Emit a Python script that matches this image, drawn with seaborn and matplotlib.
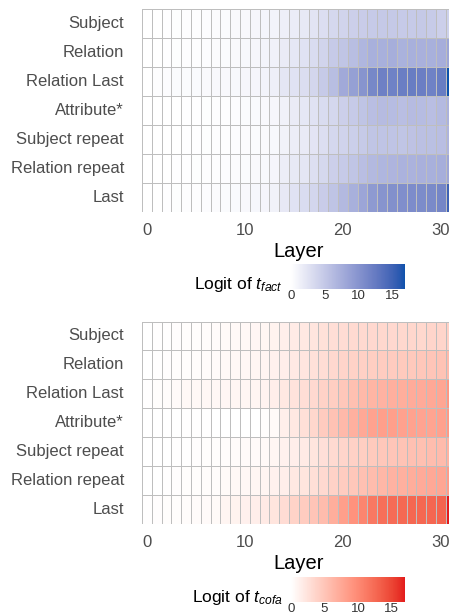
import numpy as np
import pandas as pd
import matplotlib
matplotlib.use("Agg")
import matplotlib.pyplot as plt
from matplotlib.colors import ListedColormap, to_rgb
import seaborn as sns

# ---------------------------------------------------------------- data
token_types = ["Subject", "Relation", "Relation Last", "Attribute*",
               "Subject repeat", "Relation repeat", "Last"]
layers = list(range(32))
xtick_layers = [0, 10, 20, 30]
cbar_ticks = [0, 5, 10, 15]

# logit of the factual target token, per token position and layer
fact_subject = [0.00, 0.05, 0.10, 0.15, 0.20, 0.25, 0.30, 0.35, 0.45, 0.55, 0.65, 0.80, 0.95, 1.10, 1.40, 1.70,
                2.00, 2.50, 3.00, 3.50, 3.90, 4.30, 4.60, 4.80, 4.90, 4.90, 4.80, 4.80, 4.90, 4.70, 4.30, 4.20]
fact_relation = [0.00, 0.05, 0.10, 0.15, 0.20, 0.25, 0.30, 0.35, 0.45, 0.55, 0.70, 0.85, 1.00, 1.30, 1.80, 2.20,
                 2.60, 3.20, 3.90, 4.80, 5.30, 6.00, 6.70, 7.30, 7.30, 7.40, 7.10, 7.30, 7.20, 7.30, 7.50, 8.30]
fact_relation_last = [0.00, 0.20, 0.30, 0.40, 0.45, 0.50, 0.55, 0.60, 0.65, 0.70, 0.80, 0.90, 1.10, 1.50, 2.30, 2.60,
                      3.10, 3.70, 4.80, 6.00, 7.90, 8.80, 10.00, 11.20, 11.90, 11.80, 12.20, 12.30, 12.10, 11.80, 12.30, 16.90]
fact_attribute = [0.00, 0.00, 0.05, 0.05, 0.10, 0.10, 0.15, 0.20, 0.25, 0.30, 0.40, 0.50, 0.60, 0.80, 1.30, 1.80,
                  2.20, 2.60, 3.20, 3.60, 4.30, 4.80, 5.40, 5.90, 6.20, 6.10, 5.90, 6.20, 6.10, 5.90, 6.30, 7.00]
fact_subject_repeat = [0.00, 0.00, 0.05, 0.05, 0.10, 0.10, 0.15, 0.20, 0.25, 0.30, 0.35, 0.45, 0.55, 0.70, 1.20, 1.60,
                       1.90, 2.40, 3.00, 3.60, 4.00, 4.40, 4.80, 5.30, 5.40, 5.40, 5.30, 5.50, 5.70, 5.80, 5.90, 6.80]
fact_relation_repeat = [0.00, 0.00, 0.05, 0.10, 0.10, 0.15, 0.20, 0.25, 0.30, 0.35, 0.45, 0.55, 0.70, 0.90, 1.60, 2.00,
                        2.30, 2.90, 3.50, 4.30, 4.80, 5.30, 5.90, 6.40, 6.70, 6.80, 7.00, 7.00, 7.20, 7.30, 7.40, 8.20]
fact_last = [0.00, 0.05, 0.10, 0.15, 0.20, 0.25, 0.30, 0.35, 0.40, 0.50, 0.60, 0.75, 0.90, 1.20, 2.10, 2.60,
             3.20, 3.70, 4.60, 5.40, 6.40, 7.30, 8.30, 9.40, 10.00, 10.40, 10.50, 10.70, 10.80, 11.00, 11.40, 15.00]

# logit of the counterfactual target token, per token position and layer
cofa_subject = [0.05, 0.10, 0.10, 0.15, 0.20, 0.25, 0.30, 0.35, 0.50, 0.55, 0.65, 0.75, 0.85, 1.10, 1.45, 1.75,
                2.00, 2.30, 2.60, 2.90, 3.00, 3.20, 3.30, 3.35, 3.45, 3.35, 3.45, 3.50, 3.45, 3.60, 3.65, 4.10]
cofa_relation = [0.05, 0.10, 0.15, 0.20, 0.25, 0.30, 0.35, 0.40, 0.55, 0.60, 0.70, 0.80, 0.90, 1.20, 1.50, 1.90,
                 2.20, 2.60, 2.95, 3.35, 3.70, 3.90, 4.10, 4.30, 4.40, 4.50, 4.60, 4.70, 4.90, 5.00, 5.20, 6.00]
cofa_relation_last = [0.10, 0.20, 0.30, 0.40, 0.60, 0.65, 0.70, 0.70, 0.75, 0.80, 0.85, 0.90, 1.00, 1.50, 2.00, 2.40,
                      2.90, 3.30, 3.90, 4.30, 4.90, 5.50, 6.10, 6.40, 6.60, 6.90, 7.00, 7.20, 7.30, 7.50, 7.70, 9.00]
cofa_attribute = [0.00, 0.00, 0.05, 0.05, 0.10, 0.10, 0.10, 0.05, 0.00, 0.00, 0.00, 0.00, 0.20, 0.50, 1.40, 2.00,
                  2.70, 3.50, 4.50, 5.30, 6.00, 6.80, 7.50, 8.00, 8.30, 8.30, 8.10, 8.00, 7.90, 7.80, 8.10, 8.70]
cofa_subject_repeat = [0.00, 0.05, 0.05, 0.10, 0.10, 0.15, 0.20, 0.25, 0.30, 0.35, 0.40, 0.45, 0.55, 0.80, 1.20, 1.50,
                       1.85, 2.30, 2.75, 3.20, 3.60, 4.00, 4.30, 4.60, 4.80, 5.00, 5.20, 5.40, 5.50, 5.70, 5.90, 6.70]
cofa_relation_repeat = [0.05, 0.05, 0.10, 0.15, 0.20, 0.25, 0.30, 0.30, 0.50, 0.60, 0.70, 0.80, 0.90, 1.20, 1.50, 2.00,
                        2.30, 2.80, 3.30, 3.90, 4.40, 4.90, 5.40, 5.80, 6.20, 6.60, 6.80, 7.10, 7.30, 7.50, 7.70, 8.50]
cofa_last = [0.10, 0.15, 0.20, 0.25, 0.30, 0.35, 0.40, 0.50, 0.90, 1.10, 1.30, 1.50, 1.80, 2.30, 3.00, 3.80,
             4.40, 5.10, 5.80, 7.00, 8.30, 9.30, 10.40, 11.40, 12.10, 12.40, 12.60, 12.70, 12.70, 12.80, 13.00, 17.00]

fact_df = pd.DataFrame([fact_subject, fact_relation, fact_relation_last, fact_attribute,
                        fact_subject_repeat, fact_relation_repeat, fact_last],
                       index=token_types, columns=layers)
cofa_df = pd.DataFrame([cofa_subject, cofa_relation, cofa_relation_last, cofa_attribute,
                        cofa_subject_repeat, cofa_relation_repeat, cofa_last],
                       index=token_types, columns=layers)


# ---------------------------------------------------------------- colour
WHITE_POINT = np.array([0.95047, 1.0, 1.08883])
M_RGB2XYZ = np.array([[0.4124, 0.3576, 0.1805],
                      [0.2126, 0.7152, 0.0722],
                      [0.0193, 0.1192, 0.9505]])
M_XYZ2RGB = np.linalg.inv(M_RGB2XYZ)


def rgb_to_lab(rgb):
    c = np.asarray(rgb, dtype=float)
    lin = np.where(c <= 0.04045, c / 12.92, ((c + 0.055) / 1.055) ** 2.4)
    xyz = M_RGB2XYZ @ lin / WHITE_POINT
    d = 6 / 29
    f = np.where(xyz > d ** 3, np.cbrt(xyz), xyz / (3 * d * d) + 4 / 29)
    return np.array([116 * f[1] - 16, 500 * (f[0] - f[1]), 200 * (f[1] - f[2])])


def lab_to_rgb(lab):
    L, a, b = lab
    fy = (L + 16) / 116
    f = np.array([fy + a / 500, fy, fy - b / 200])
    d = 6 / 29
    xyz = np.where(f > d, f ** 3, 3 * d * d * (f - 4 / 29)) * WHITE_POINT
    lin = np.clip(M_XYZ2RGB @ xyz, 0, 1)
    c = np.where(lin <= 0.0031308, 12.92 * lin, 1.055 * lin ** (1 / 2.4) - 0.055)
    return np.clip(c, 0, 1)


def lab_gradient(high, n=256):
    """White-to-colour gradient interpolated in CIE Lab."""
    lo, hi = rgb_to_lab(to_rgb("white")), rgb_to_lab(to_rgb(high))
    return ListedColormap([lab_to_rgb(lo + (hi - lo) * t) for t in np.linspace(0, 1, n)])


blue_cmap = lab_gradient("#0c52ac")
red_cmap = lab_gradient("#e31a1c")

# ---------------------------------------------------------------- style
sns.set_theme(style="white")
plt.rcParams["font.family"] = ["Liberation Sans", "DejaVu Sans"]
plt.rcParams["mathtext.fontset"] = "custom"
plt.rcParams["mathtext.rm"] = "Liberation Sans"
plt.rcParams["mathtext.it"] = "Liberation Sans:italic"

W, H = 449, 614
fig = plt.figure(figsize=(W / 100, H / 100), dpi=100)
fig.patch.set_facecolor("white")


def px_box(left, top, width, height):
    return [left / W, 1 - (top + height) / H, width / W, height / H]


def panel(df, cmap, top, bar_top, sub):
    ax = fig.add_axes(px_box(142, top, 313.6, 202.5))
    cax = fig.add_axes(px_box(291, bar_top, 114, 25))
    sns.heatmap(df, ax=ax, cmap=cmap, vmin=0, vmax=df.values.max(),
                linewidths=0.6, linecolor="#bebebe", cbar_ax=cax,
                cbar_kws=dict(orientation="horizontal", ticks=cbar_ticks))
    ax.set_xticks([x + 0.5 for x in xtick_layers])
    ax.set_xticklabels([str(x) for x in xtick_layers], rotation=0,
                       fontsize=12, color="#4d4d4d")
    ax.set_yticks(np.arange(len(token_types)) + 0.5)
    ax.set_yticklabels(token_types, rotation=0, fontsize=12, color="#4d4d4d")
    ax.tick_params(axis="x", length=0, pad=8)
    ax.tick_params(axis="y", length=0, pad=13)
    ax.set_xlabel("Layer", fontsize=14.5, color="black", labelpad=3)
    ax.set_ylabel("")

    cbar = ax.collections[0].colorbar
    cbar.outline.set_visible(False)
    cax.tick_params(axis="x", direction="in", length=5, width=1,
                    color="white", top=True, bottom=True,
                    labelsize=9.5, labelcolor="#333333", pad=1)
    cax.set_xticklabels([str(t) for t in cbar_ticks])
    fig.text(283 / W, 1 - (bar_top + 25) / H, "Logit of $t_{%s}$" % sub,
             ha="right", va="baseline", fontsize=12.5, color="black")
    return ax


panel(fact_df, blue_cmap, 9.2, 264, "fact")
panel(cofa_df, red_cmap, 321.5, 577, "cofa")

fig.savefig("out.png", dpi=100)
